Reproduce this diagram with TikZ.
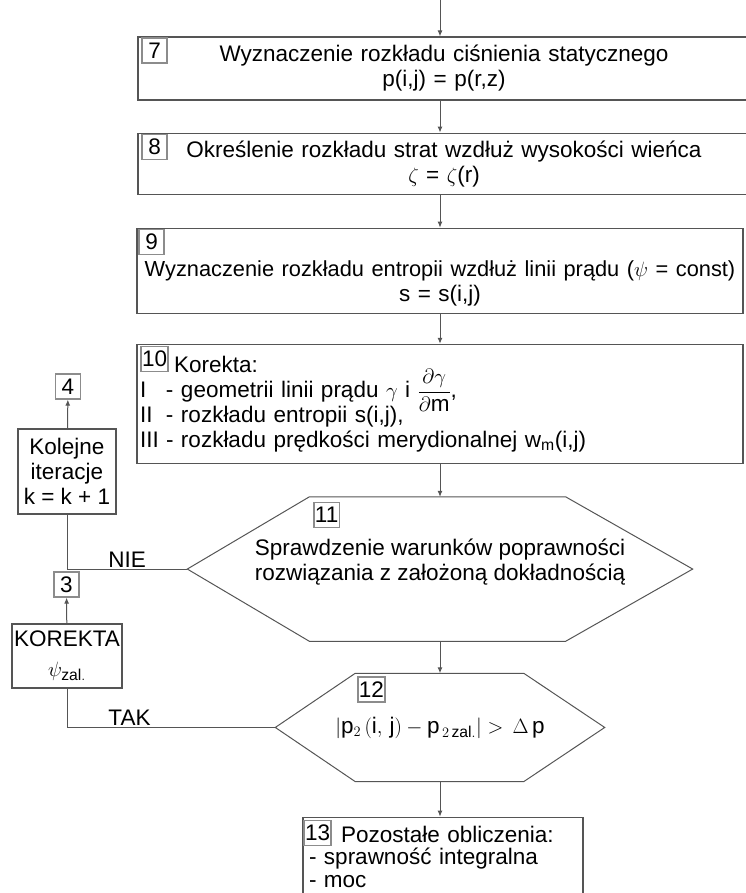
\documentclass[tikz,border=0pt]{standalone}
\usepackage{fontspec}
\setmainfont{Liberation Sans}
\usetikzlibrary{arrows.meta,calc,positioning}
\definecolor{linegray}{HTML}{555555}
\definecolor{taggray}{HTML}{8C8C8C}
\newcommand{\flowfont}{\fontsize{22.5pt}{25pt}\selectfont}
\newcommand{\rnum}[1]{\makebox[26pt][l]{#1}}

\begin{document}
\begin{tikzpicture}[x=1pt,y=-1pt,
 box/.style={draw=linegray,line width=1.1pt,inner sep=3pt,font=\flowfont},
 mainbox/.style={box,text width=600pt,minimum width=606pt,align=center},
 widebox/.style={mainbox,text width=606pt,minimum width=612pt},
 tagbox/.style={draw=taggray,line width=1.3pt,inner sep=1pt,minimum width=25pt,minimum height=25pt,font=\flowfont},
 decision/.style={font=\flowfont,align=center,inner sep=0pt},
 arr/.style={-{Latex[length=6pt,width=5pt]},draw=linegray,line width=1pt},
 link/.style={draw=linegray,line width=1pt},
 note/.style={font=\flowfont,above,inner sep=1pt}
]
\useasboundingbox (0,0) rectangle (745,893);

% main column
\node[widebox,minimum height=63pt] (b7) at (444,68.5) {Wyznaczenie rozkładu ciśnienia statycznego\\p(i,j) = p(r,z)};
\node[widebox,minimum height=61pt,below=32pt of b7] (b8) {Określenie rozkładu strat wzdłuż wysokości wieńca\\$\zeta$ = $\zeta$(r)};
\node[mainbox,minimum height=85pt,below=33pt of b8,xshift=-4pt] (b9) {\rule{0pt}{17pt}\\\mbox{\fontsize{21.8pt}{25pt}\selectfont Wyznaczenie rozkładu entropii wzdłuż linii prądu ($\psi$ = const)}\\s = s(i,j)};
\node[mainbox,align=left,minimum height=119pt,below=30pt of b9] (b10) {\hspace*{34pt}Korekta:\\
 \rnum{I}- geometrii linii prądu $\gamma$ i \smash{$\displaystyle\frac{\partial\gamma}{\partial \mathrm{m}}$},\\
 \rnum{II}- rozkładu entropii s(i,j),\\
 \rnum{III}- rozkładu prędkości merydionalnej w$_{\mathrm{m}}$(i,j)};

\node[decision,minimum width=505pt,minimum height=144pt,below=33pt of b10] (chk) {Sprawdzenie warunków poprawności\\rozwiązania z założoną dokładnością\\[-6pt]};
\draw[link] (chk.west) -- ($(chk.north west)+(122,0)$) -- ($(chk.north east)+(-127,0)$) -- (chk.east)
 -- ($(chk.south east)+(-127,0)$) -- ($(chk.south west)+(122,0)$) -- cycle;

\node[decision,minimum width=329pt,minimum height=108pt,below=32pt of chk] (dec) {$\left|\mathrm{p}_{2}\,(\mathrm{i},\,\mathrm{j})-\mathrm{p}_{\,2\,\mathrm{zal.}}\right|>\,\Delta\,\mathrm{p}$};
\draw[link] (dec.west) -- ($(dec.north west)+(80,0)$) -- ($(dec.north east)+(-81,0)$) -- (dec.east)
 -- ($(dec.south east)+(-81,0)$) -- ($(dec.south west)+(80,0)$) -- cycle;

\node[box,align=left,text width=268pt,inner xsep=6pt,inner ysep=1pt,minimum height=79pt,below=35pt of dec,xshift=3pt,
 font=\fontsize{22.5pt}{22.5pt}\selectfont] (b13) {\hspace*{32pt}Pozostałe obliczenia:\\- sprawność integralna\\- moc};

% number tags
\node[tagbox,anchor=north west] (t7) at ($(b7.north west)+(4,1)$) {7};
\node[tagbox,anchor=north west] (t8) at ($(b8.north west)+(4,1)$) {8};
\node[tagbox,anchor=north west] (t9) at ($(b9.north west)+(2,1)$) {9};
\node[tagbox,anchor=north west] (t10) at ($(b10.north west)+(4,2)$) {10};
\node[tagbox,anchor=north west] (t11) at ($(chk.north west)+(126,5)$) {11};
\node[tagbox,anchor=north west] (t12) at ($(dec.north west)+(82,3)$) {12};
\node[tagbox,anchor=north west] (t13) at ($(b13.north west)+(1,3)$) {13};

% loop-back column
\node[box,align=center,minimum width=98pt,minimum height=85pt] (iter) at (67,471.5) {Kolejne\\iteracje\\k = k + 1};
\node[tagbox] (t4) at (68,386.5) {4};
\node[box,align=center,minimum width=110pt,minimum height=64pt,inner xsep=1pt] (kor) at (67,656) {KOREKTA\\[5pt]$\psi_{\mathrm{zal.}}$};
\node[tagbox] (t3) at (66.5,584.5) {3};

\coordinate (entry) at (440,0);
\draw[arr] (entry) -- (entry |- b7.north);
\draw[arr] (b7.south -| b9) -- (b8.north -| b9);
\draw[arr] (b8.south -| b9) -- (b9);
\draw[arr] (b9) -- (b10);
\draw[arr] (b10) -- (chk);
\draw[arr] (chk) -- (dec);
\draw[arr] (dec.south) -- (dec.south |- b13.north);
\draw[arr] (iter) -- (t4);
\draw[arr] (kor) -- (t3);
\draw[link] (chk.west) -| node[note,pos=0.25]{NIE} (iter.south);
\draw[link] (dec.west) -| node[note,pos=0.35]{TAK} (kor.south);
\end{tikzpicture}
\end{document}
